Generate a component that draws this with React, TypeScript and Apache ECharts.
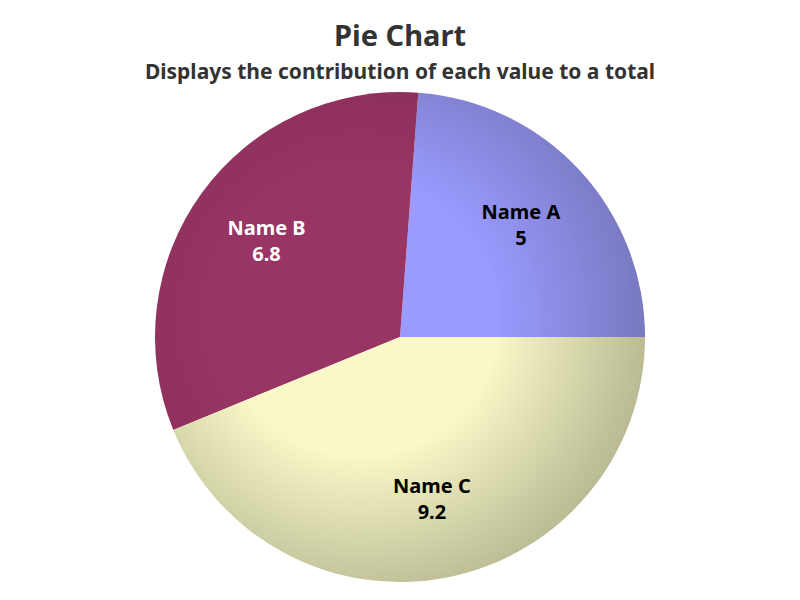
import React, { useEffect, useRef } from "react";
import * as echarts from "echarts";

const categories = ["Name A", "Name B", "Name C"];
const values = [5, 6.8, 9.2];
const centerColors = ["#9a9aff", "#983564", "#f8f8c8"];
const edgeColors = ["#7474b8", "#862c56", "#b4b48e"];
const labelColors = ["#000000", "#ffffff", "#000000"];

const CX = 400;
const CY = 337;
const R = 245;

export default function App() {
  const ref = useRef<HTMLDivElement>(null);
  useEffect(() => {
    if (!ref.current) return;
    const chart = echarts.init(ref.current, undefined, { renderer: "svg" });
    const fillData = categories.map((name, i) => ({
      name,
      value: values[i],
      itemStyle: {
        color: {
          type: "radial",
          x: CX - 40,
          y: CY - 20,
          r: R + 60,
          global: true,
          colorStops: [
            { offset: 0, color: centerColors[i] },
            { offset: 0.45, color: centerColors[i] },
            { offset: 1, color: edgeColors[i] },
          ],
        },
      },
    }));
    const labelData = categories.map((name, i) => ({
      name,
      value: values[i],
      label: { color: labelColors[i] },
    }));
    chart.setOption({
      animation: false,
      title: [
        {
          text: "Pie Chart",
          left: "center",
          top: 15,
          textStyle: { fontFamily: "Noto Sans", fontWeight: "bold", fontSize: 29, color: "#333333" },
        },
        {
          text: "Displays the contribution of each value to a total",
          left: "center",
          top: 55,
          textStyle: { fontFamily: "Noto Sans", fontWeight: "bold", fontSize: 21, color: "#333333" },
        },
      ],
      series: [
        {
          type: "pie",
          center: [CX, CY],
          radius: [0, R],
          startAngle: 0,
          clockwise: false,
          silent: true,
          label: { show: false },
          labelLine: { show: false },
          itemStyle: { borderWidth: 0 },
          data: fillData,
        },
        {
          type: "pie",
          center: [CX, CY],
          radius: [0, 324],
          startAngle: 0,
          clockwise: false,
          silent: true,
          itemStyle: { color: "rgba(0,0,0,0)", borderWidth: 0 },
          label: {
            show: true,
            position: "inside",
            formatter: "{b}\n{c}",
            fontFamily: "Noto Sans",
            fontWeight: "bold",
            fontSize: 20,
            lineHeight: 26,
            align: "center",
          },
          labelLine: { show: false },
          data: labelData,
        },
      ],
    });
    return () => chart.dispose();
  }, []);
  return (
    <div
      ref={ref}
      style={{ position: "fixed", left: 0, top: 0, width: 800, height: 600, background: "#ffffff" }}
    />
  );
}
